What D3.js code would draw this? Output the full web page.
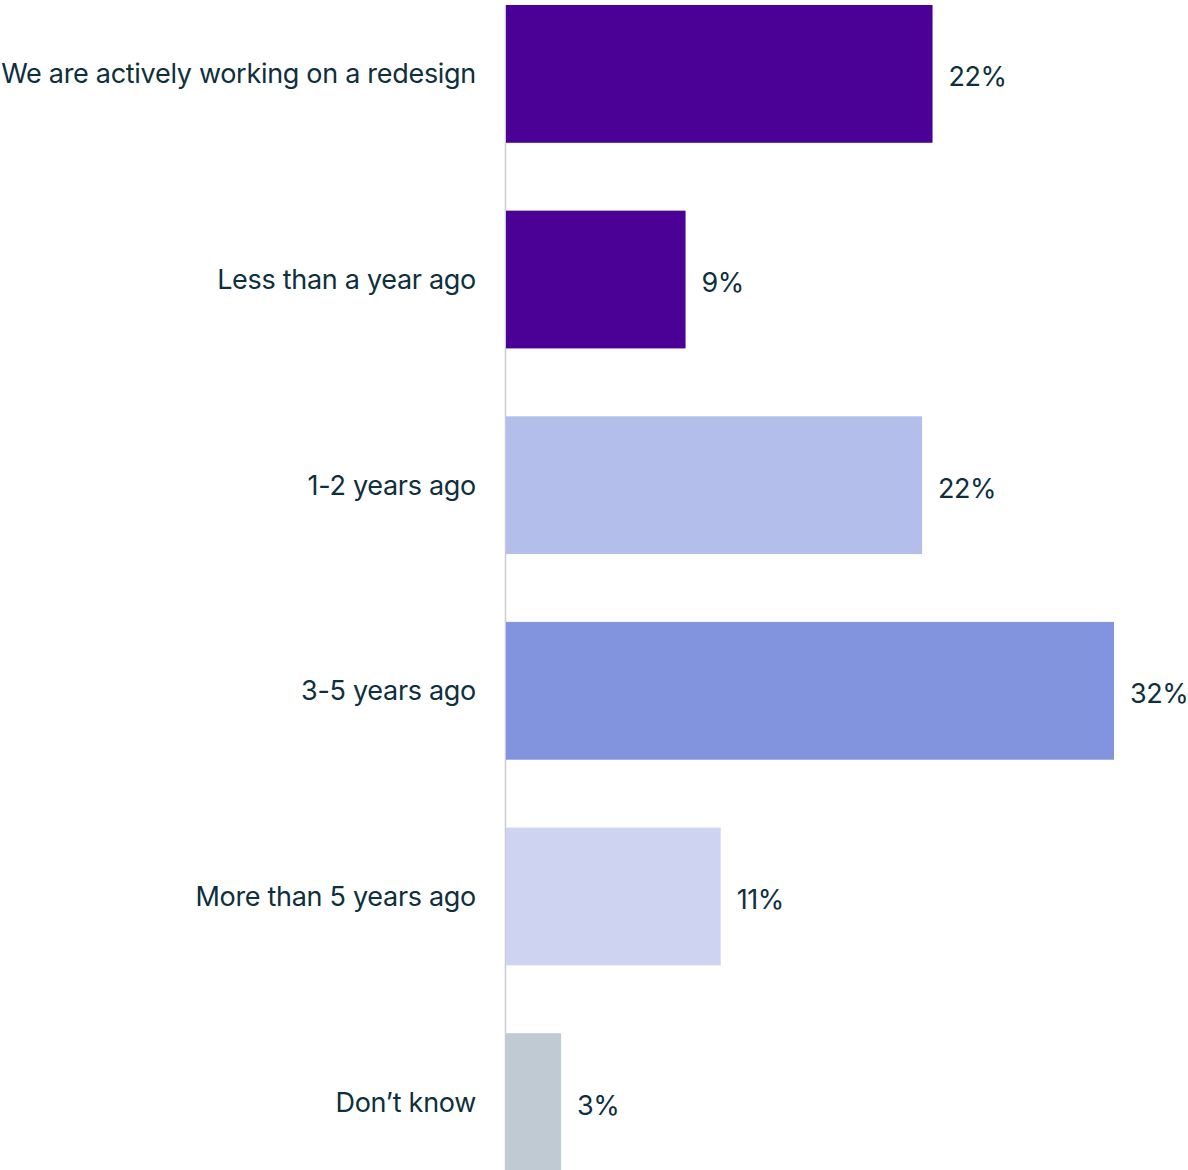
<!DOCTYPE html>
<html>
<head>
<meta charset="utf-8">
<script src="https://cdn.jsdelivr.net/npm/d3@7"></script>
<style>
  html, body { margin: 0; padding: 0; background: #ffffff; }
  svg { display: block; }
  text { font-family: "Inter", "Liberation Sans", sans-serif; fill: #0f2f3d; }
</style>
</head>
<body>
<svg id="chart" width="1188" height="1170"></svg>
<script>
// Survey responses: when was the last redesign
const categories = [
  "We are actively working on a redesign",
  "Less than a year ago",
  "1-2 years ago",
  "3-5 years ago",
  "More than 5 years ago",
  "Don’t know"
];
const values = [22.45, 9.45, 21.9, 32.0, 11.3, 2.9];
const barColors = ["#4b0096", "#4b0096", "#b4beeb", "#8294de", "#cdd3f0", "#bfcad3"];

const svg = d3.select("#chart");
const x0 = 506;

const x = d3.scaleLinear().domain([0, 32]).range([x0, 1114]);
const y = d3.scaleBand()
  .domain(categories)
  .range([5, 1171])
  .paddingInner(0.33)
  .paddingOuter(0);

const fmt = v => d3.format(".0f")(v) + "%";

// baseline
svg.append("line")
  .attr("x1", x0 - 0.5).attr("x2", x0 - 0.5)
  .attr("y1", 5).attr("y2", 1170)
  .attr("stroke", "#c9ccd6").attr("stroke-width", 1.5);

// bars
svg.selectAll("rect.bar")
  .data(categories)
  .join("rect")
  .attr("class", "bar")
  .attr("x", x0)
  .attr("y", d => y(d))
  .attr("width", (d, i) => x(values[i]) - x0)
  .attr("height", y.bandwidth())
  .attr("fill", (d, i) => barColors[i]);

// category labels
svg.selectAll("text.cat")
  .data(categories)
  .join("text")
  .attr("class", "cat")
  .attr("x", 476)
  .attr("y", d => y(d) + y.bandwidth() / 2)
  .attr("dy", "0.35em")
  .attr("text-anchor", "end")
  .attr("font-size", 27)
  .attr("letter-spacing", "-0.3")
  .text(d => d);

// value labels
svg.selectAll("text.val")
  .data(categories)
  .join("text")
  .attr("class", "val")
  .attr("x", (d, i) => x(values[i]) + 16)
  .attr("y", d => y(d) + y.bandwidth() / 2 + 3)
  .attr("dy", "0.35em")
  .attr("font-size", 27)
  .attr("letter-spacing", "-0.5")
  .text((d, i) => fmt(values[i]));
</script>
</body>
</html>
